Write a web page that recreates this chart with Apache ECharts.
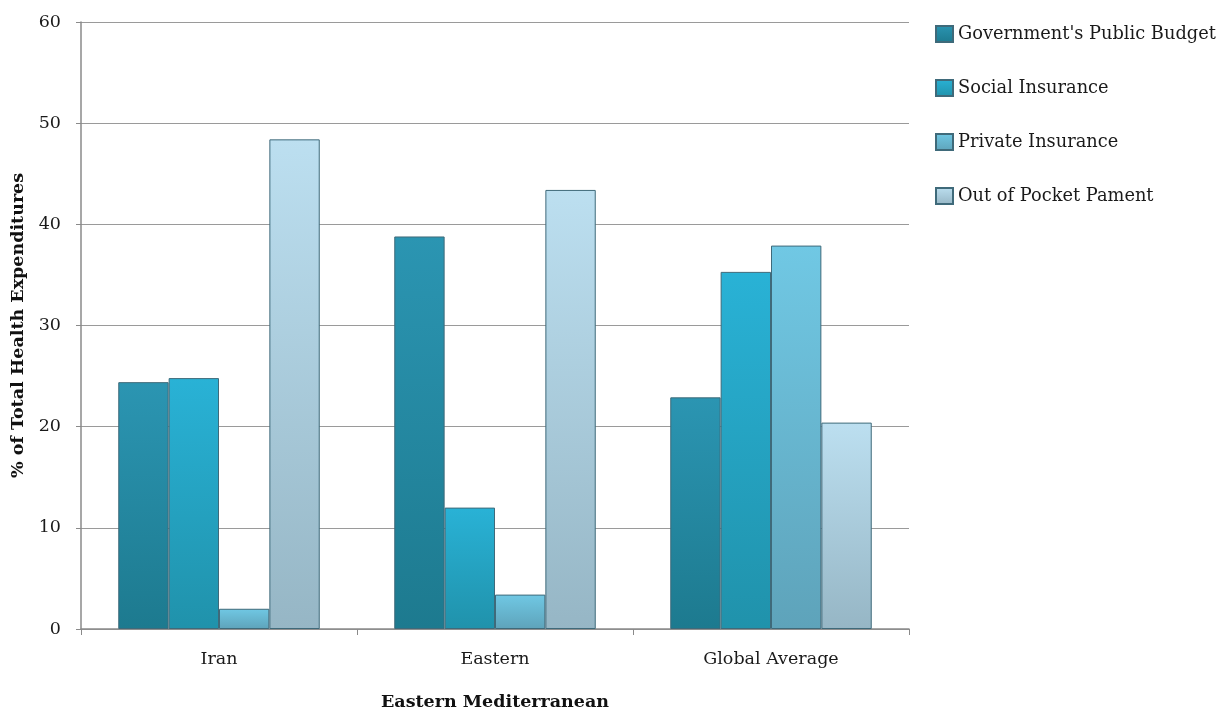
<!DOCTYPE html>
<html><head><meta charset="utf-8">
<script src="https://cdn.jsdelivr.net/npm/echarts@6/dist/echarts.min.js"></script>
<style>html,body{margin:0;padding:0;background:#fff}#c{width:1221px;height:712px}</style>
</head><body><div id="c"></div>
<script>
const categories = ["Iran", "Eastern", "Global Average"];
const seriesNames = ["Government's Public Budget", "Social Insurance", "Private Insurance", "Out of Pocket Pament"];
const govBudget = [24.4, 38.8, 22.9];
const socialInsurance = [24.8, 12.0, 35.3];
const privateInsurance = [2.0, 3.4, 37.9];
const outOfPocket = [48.4, 43.4, 20.4];
const yTicks = [0, 10, 20, 30, 40, 50, 60];

const colorStops = [
  ['#2b95b2', '#1d7a8f'],
  ['#29b2d6', '#2092ab'],
  ['#70c8e4', '#5ea3ba'],
  ['#bcdff0', '#96b6c5']
];
const values = [govBudget, socialInsurance, privateInsurance, outOfPocket];
const font = 'DejaVu Serif';

const chart = echarts.init(document.getElementById('c'));
chart.setOption({
  animation: false,
  grid: { left: 81, right: 312, top: 22, bottom: 83, containLabel: false, outerBoundsMode: 'none' },
  legend: {
    orient: 'vertical', left: 935, top: 25, padding: 0,
    itemWidth: 17, itemHeight: 16, itemGap: 36,
    textStyle: { fontFamily: font, fontSize: 17.8, color: '#1a1a1a', lineHeight: 18 },
    data: seriesNames.map((n, i) => ({ name: n, icon: 'rect' }))
  },
  xAxis: {
    type: 'category', data: categories,
    name: 'Eastern Mediterranean', nameLocation: 'middle', nameGap: 64,
    nameTextStyle: { fontFamily: font, fontSize: 17.5, fontWeight: 'bold', color: '#111' },
    axisLine: { lineStyle: { color: '#8a8a8a', width: 1.5 } },
    axisTick: { show: true, length: 6, lineStyle: { color: '#8a8a8a' }, alignWithLabel: false },
    axisLabel: { fontFamily: font, fontSize: 17.5, color: '#1a1a1a', margin: 21 }
  },
  yAxis: {
    type: 'value', min: 0, max: 60, interval: 10,
    name: '% of Total Health Expenditures', nameLocation: 'middle', nameGap: 47,
    nameTextStyle: { fontFamily: font, fontSize: 17.5, fontWeight: 'bold', color: '#111' },
    axisLine: { show: true, lineStyle: { color: '#8a8a8a', width: 1.5 } },
    axisTick: { show: true, length: 5, lineStyle: { color: '#8a8a8a' } },
    axisLabel: { fontFamily: font, fontSize: 17.5, color: '#1a1a1a', margin: 20,
      formatter: v => yTicks.includes(v) ? String(v) : '' },
    splitLine: { lineStyle: { color: '#9a9a9a', width: 1.2 } }
  },
  series: seriesNames.map((n, i) => ({
    name: n, type: 'bar', data: values[i],
    barGap: '0%', barCategoryGap: '27%',
    itemStyle: {
      color: new echarts.graphic.LinearGradient(0, 0, 0, 1, [
        { offset: 0, color: colorStops[i][0] },
        { offset: 1, color: colorStops[i][1] }
      ]),
      borderColor: '#3f6a7a', borderWidth: 1
    }
  }))
});
</script></body></html>
